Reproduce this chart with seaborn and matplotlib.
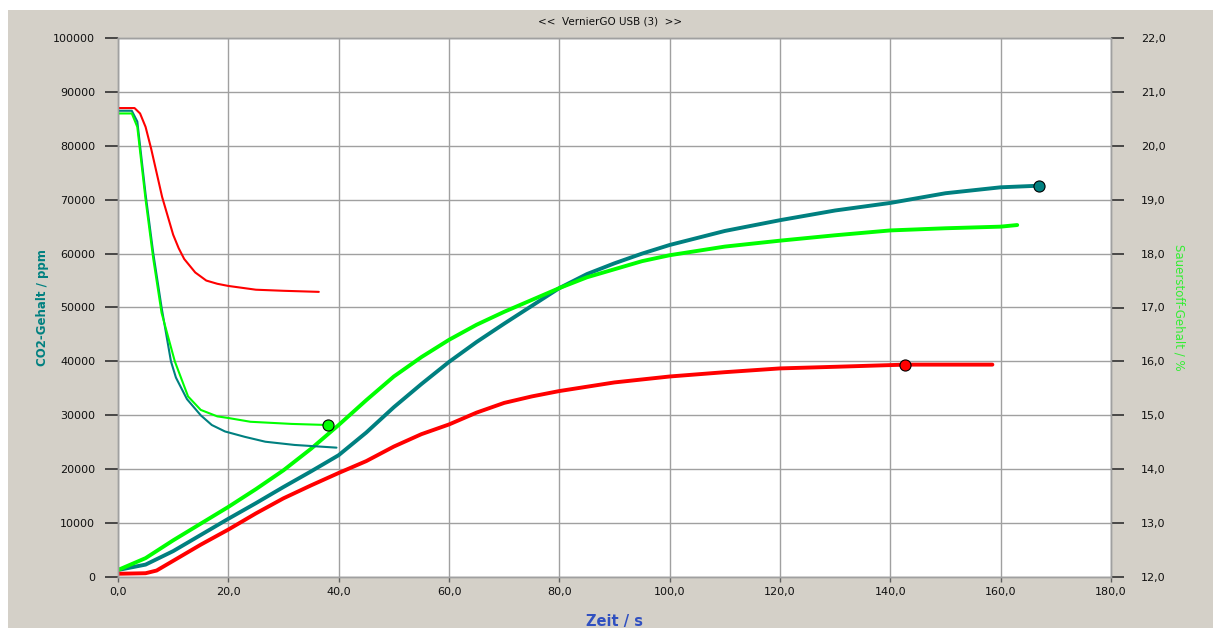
#!/usr/bin/env python3
"""Recreate the VernierGO CO2 / O2 chart"""
import seaborn as sns
import numpy as np
from pandas import DataFrame
from matplotlib import pyplot as plt
from matplotlib.patches import Rectangle
from matplotlib.ticker import FixedLocator, FuncFormatter

sns.set_style("white")

# rising curves, CO2 (ppm, left axis)
teal_up_t = [0, 5, 10, 15, 20, 25, 30, 35, 40, 45, 50, 55, 60, 65, 70, 75, 80, 85, 90, 95,
             100, 110, 120, 130, 140, 150, 160, 167]
teal_up_v = [1300, 2300, 4800, 7800, 10800, 13700, 16700, 19600, 22600, 26800, 31500, 35800,
             39900, 43600, 47000, 50300, 53600, 56200, 58200, 60000, 61600, 64200, 66200,
             68000, 69400, 71200, 72300, 72600]
green_up_t = [0, 5, 10, 15, 20, 25, 30, 35, 40, 45, 50, 55, 60, 65, 70, 75, 80, 85, 90, 95,
              100, 110, 120, 130, 140, 150, 160, 163]
green_up_v = [1300, 3500, 6800, 9900, 13000, 16300, 19800, 23800, 28200, 32800, 37200, 40800,
              44000, 46800, 49200, 51400, 53600, 55600, 57100, 58600, 59700, 61300, 62400,
              63400, 64300, 64700, 65000, 65300]
red_up_t = [0, 5, 7, 10, 15, 20, 25, 30, 35, 40, 45, 50, 55, 60, 65, 70, 75, 80, 90, 100,
            110, 120, 130, 142.7, 158.5]
red_up_v = [600, 700, 1200, 3000, 6000, 8800, 11800, 14600, 17000, 19300, 21500, 24200, 26500,
            28300, 30500, 32300, 33500, 34500, 36100, 37200, 38000, 38700, 39000, 39400, 39400]
red_mark_t = 142.7

# falling curves, O2 (%, right axis)
teal_down_t = [0, 2.5, 3.5, 4, 5, 6.4, 7.9, 9.6, 10.5, 12.5, 15, 17, 19.4, 23, 26.7, 32, 39.6]
teal_down_v = [20.65, 20.65, 20.45, 20.0, 19.1, 18.0, 17.0, 16.0, 15.7, 15.3, 15.0, 14.82,
               14.7, 14.6, 14.51, 14.45, 14.4]
green_down_t = [0, 2.5, 3.5, 4, 5, 6.4, 7.9, 10.3, 12.7, 15, 18, 20, 24, 31.5, 38]
green_down_v = [20.6, 20.6, 20.35, 19.9, 19.0, 17.9, 16.9, 16.0, 15.35, 15.1, 14.98, 14.95,
                14.88, 14.84, 14.82]
red_down_t = [0, 3, 4, 5, 6, 7, 8, 9, 10, 11, 12, 14, 16, 18, 20, 25, 30, 36.4]
red_down_v = [20.7, 20.7, 20.6, 20.35, 19.95, 19.5, 19.05, 18.7, 18.35, 18.1, 17.9, 17.65,
              17.5, 17.44, 17.4, 17.33, 17.31, 17.29]

x_ticks = [0, 20, 40, 60, 80, 100, 120, 140, 160, 180]
left_ticks = list(range(0, 100001, 10000))
right_ticks = list(range(12, 23))

TEAL = "#008080"
GREEN = "#00ff00"
RED = "#ff0000"
BG = "#d4d0c8"


def comma(v, pos=None):
    return f"{v:.1f}".replace(".", ",")


def draw(ax, t, v, color, lw):
    df = DataFrame({"t": t, "v": v})
    sns.lineplot(data=df, x="t", y="v", ax=ax, color=color, linewidth=lw,
                 estimator=None, sort=False, legend=False)


fig = plt.figure(figsize=(12.13, 6.28), dpi=100, facecolor="white")
fig.patches.append(Rectangle((8 / 1213, 0), 1, 1 - 10 / 628, transform=fig.transFigure,
                             facecolor=BG, edgecolor="none", zorder=-10))

ax = fig.add_axes([118 / 1213, 1 - 577 / 628, (1111 - 118) / 1213, (577 - 38) / 628])
ax.set_facecolor("white")
ax2 = ax.twinx()

draw(ax, teal_up_t, teal_up_v, TEAL, 2.8)
draw(ax, green_up_t, green_up_v, GREEN, 2.8)
draw(ax, red_up_t, red_up_v, RED, 2.8)
draw(ax2, teal_down_t, teal_down_v, TEAL, 1.5)
draw(ax2, green_down_t, green_down_v, GREEN, 1.5)
draw(ax2, red_down_t, red_down_v, RED, 1.5)

# end markers
ax.plot(teal_up_t[-1], teal_up_v[-1], "o", ms=8, mfc=TEAL, mec="black", mew=0.8, zorder=5)
ax.plot(red_mark_t, red_up_v[red_up_t.index(red_mark_t)], "o", ms=8, mfc=RED,
        mec="black", mew=0.8, zorder=5)
ax2.plot(green_down_t[-1], green_down_v[-1], "o", ms=8, mfc=GREEN, mec="black", mew=0.8, zorder=5)

ax.set_xlim(0, 180)
ax.set_ylim(0, 100000)
ax2.set_ylim(12, 22)

ax.xaxis.set_major_locator(FixedLocator(x_ticks))
ax.xaxis.set_major_formatter(FuncFormatter(comma))
ax.yaxis.set_major_locator(FixedLocator(left_ticks))
ax.yaxis.set_major_formatter(FuncFormatter(lambda v, p: f"{int(v)}"))
ax2.yaxis.set_major_locator(FixedLocator(right_ticks))
ax2.yaxis.set_major_formatter(FuncFormatter(comma))

ax.grid(True, color="#a0a0a0", linewidth=1.0)
ax2.grid(False)
for a in (ax, ax2):
    for s in a.spines.values():
        s.set_color("#a0a0a0")
        s.set_linewidth(1.0)

ax.tick_params(axis="y", direction="out", length=9.5, width=1.2, color="#303030",
               pad=7, labelsize=8, labelcolor="#101010", left=True)
ax.tick_params(axis="x", direction="out", length=3.5, width=1.0, color="#606060",
               pad=4, labelsize=8, labelcolor="#101010", bottom=True)
ax2.tick_params(axis="y", direction="out", length=9.5, width=1.2, color="#303030",
                pad=12, labelsize=8, labelcolor="#101010", right=True)

ax.set_xlabel("Zeit / s", color="#3050c0", fontweight="bold", fontsize=10.5, labelpad=12)
ax.set_ylabel("CO2-Gehalt / ppm", color=TEAL, fontweight="bold", fontsize=8.5, labelpad=3)
ax2.set_ylabel("Sauerstoff-Gehalt / %", color="#33ee33", fontsize=8.5,
               rotation=-90, labelpad=14)

fig.text(0.503, 1 - 22 / 628, "<<  VernierGO USB (3)  >>", ha="center", va="center",
         fontsize=7.5, color="#101010")

print("Saving out.png")
fig.savefig("out.png", dpi=100, facecolor=fig.get_facecolor())
